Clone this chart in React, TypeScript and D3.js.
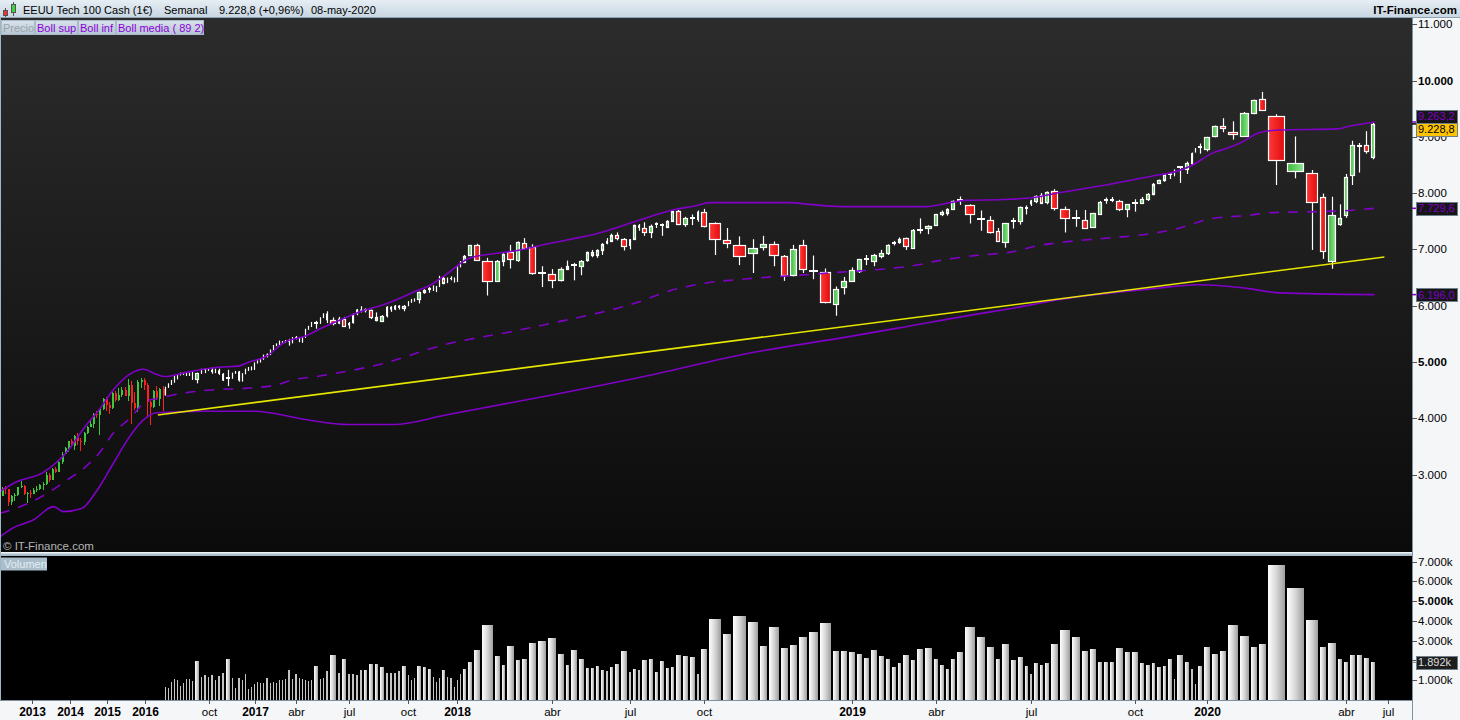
import * as d3 from "d3";

// open, high, low, close
type Ohlc = [number, number, number, number];
// open, high, low, close, volume (thousands)
type Bar = [number, number, number, number, number];

const FONT = "'Liberation Sans', Arial, sans-serif";
const PURPLE = "#8000c8";

// monthly bars before the volume history starts (Mar 2012 .. Jun 2016)
const HISTORY_START = new Date(2012, 2, 1);
const history: Ohlc[] = [
  [2620, 2780, 2610, 2755], [2760, 2795, 2650, 2735], [2740, 2750, 2445, 2520], [2520, 2630, 2450, 2615],
  [2615, 2670, 2530, 2640], [2640, 2780, 2620, 2775], [2780, 2880, 2760, 2800], [2800, 2810, 2630, 2660],
  [2660, 2690, 2500, 2680], [2680, 2730, 2580, 2660],
  [2660, 2760, 2650, 2730], [2730, 2790, 2690, 2740], [2740, 2830, 2720, 2820], [2820, 2870, 2730, 2830],
  [2830, 3040, 2820, 2990], [2990, 3030, 2860, 2910], [2910, 3110, 2900, 3100], [3100, 3140, 3030, 3040],
  [3040, 3260, 3040, 3220], [3220, 3400, 3180, 3370], [3370, 3490, 3360, 3470], [3470, 3600, 3400, 3590],
  [3590, 3630, 3480, 3500], [3500, 3710, 3440, 3690], [3690, 3740, 3520, 3590], [3590, 3640, 3410, 3580],
  [3580, 3750, 3520, 3740], [3740, 3860, 3720, 3850], [3850, 3990, 3840, 3890], [3890, 4090, 3830, 4080],
  [4080, 4120, 4000, 4050], [4050, 4170, 3700, 4160], [4160, 4360, 4140, 4340], [4340, 4370, 4120, 4240],
  [4240, 4290, 4080, 4190], [4190, 4470, 4160, 4450], [4450, 4490, 4280, 4330], [4330, 4530, 4300, 4420],
  [4420, 4560, 4380, 4510], [4510, 4560, 4390, 4400], [4400, 4700, 4300, 4590], [4590, 4660, 3900, 4270],
  [4270, 4460, 4150, 4180], [4180, 4680, 4110, 4650], [4650, 4720, 4530, 4680], [4680, 4710, 4510, 4590],
  [4590, 4630, 4000, 4280], [4280, 4310, 3880, 4200], [4200, 4500, 4180, 4480], [4480, 4580, 4320, 4340],
  [4340, 4540, 4220, 4520], [4520, 4570, 4120, 4420],
];

// weekly bars, first week starting Mon 4 Jul 2016
const WEEKS_START = new Date(2016, 6, 4);
const w2016: Bar[] = [
  [4420, 4560, 4400, 4550, 640], [4550, 4620, 4540, 4610, 590], [4610, 4680, 4590, 4660, 915],
  [4660, 4750, 4630, 4730, 1050], [4730, 4780, 4690, 4770, 1015], [4770, 4810, 4760, 4800, 710],
  [4800, 4820, 4770, 4795, 850], [4795, 4815, 4750, 4775, 1065], [4775, 4810, 4750, 4800, 1050],
  [4800, 4835, 4680, 4685, 950], [4685, 4810, 4620, 4795, 1980], [4795, 4880, 4790, 4860, 1150],
  [4860, 4885, 4800, 4875, 1250], [4875, 4890, 4840, 4860, 1150], [4860, 4900, 4790, 4820, 1250],
  [4820, 4880, 4800, 4850, 1015], [4850, 4880, 4770, 4790, 1220], [4790, 4800, 4660, 4670, 1355],
  [4700, 4860, 4570, 4720, 2080], [4720, 4810, 4700, 4800, 1100], [4800, 4840, 4790, 4830, 610],
  [4830, 4840, 4650, 4670, 1100], [4670, 4800, 4650, 4790, 1015], [4790, 4880, 4780, 4850, 1320],
  [4850, 4910, 4840, 4900, 560], [4900, 4920, 4850, 4865, 625],
];
const w2017: Bar[] = [
  [4865, 4990, 4860, 4985, 810], [4985, 5030, 4970, 5020, 915], [5020, 5050, 4990, 5045, 830],
  [5045, 5130, 5040, 5120, 865], [5120, 5150, 5080, 5130, 1100], [5130, 5220, 5120, 5210, 830],
  [5210, 5300, 5200, 5300, 915], [5300, 5330, 5280, 5320, 865], [5320, 5380, 5300, 5340, 1015],
  [5340, 5370, 5320, 5360, 1015], [5360, 5390, 5340, 5380, 1065], [5380, 5410, 5290, 5360, 1525],
  [5360, 5440, 5330, 5440, 1065], [5440, 5460, 5400, 5420, 1320], [5420, 5430, 5350, 5360, 1120],
  [5360, 5440, 5340, 5430, 1065], [5430, 5590, 5430, 5580, 1015], [5580, 5640, 5570, 5640, 965],
  [5640, 5710, 5620, 5700, 1015], [5700, 5730, 5590, 5680, 1730], [5680, 5790, 5680, 5790, 1065],
  [5790, 5860, 5780, 5860, 1120], [5860, 5900, 5690, 5740, 1475], [5740, 5790, 5650, 5680, 2290],
  [5680, 5800, 5670, 5770, 1370], [5770, 5800, 5640, 5650, 2080], [5650, 5710, 5590, 5690, 1320],
  [5690, 5860, 5680, 5850, 1320], [5850, 5940, 5830, 5930, 1270], [5930, 5990, 5880, 5910, 1525],
  [5910, 5950, 5880, 5920, 1525], [5920, 5930, 5760, 5790, 1830], [5790, 5880, 5720, 5730, 1830],
  [5730, 5830, 5710, 5810, 1675], [5810, 5990, 5790, 5980, 1370], [5980, 5990, 5890, 5930, 1370],
  [5930, 6010, 5920, 6000, 1370], [6000, 6010, 5930, 5960, 1475], [5960, 6010, 5900, 6000, 1730],
  [6000, 6080, 5990, 6070, 1270], [6070, 6120, 6050, 6110, 1015], [6110, 6130, 6070, 6110, 1120],
  [6110, 6250, 6040, 6240, 1730], [6240, 6290, 6210, 6280, 1675], [6280, 6330, 6230, 6290, 1575],
  [6290, 6360, 6260, 6340, 1170], [6340, 6350, 6240, 6260, 900], [6360, 6530, 6330, 6510, 1120],
  [6500, 6520, 6380, 6410, 1525], [6410, 6500, 6400, 6490, 1170], [6490, 6520, 6450, 6480, 1100],
  [6480, 6500, 6410, 6430, 660],
];
const w2018: Bar[] = [
  [6430, 6700, 6420, 6690, 1015], [6690, 6790, 6680, 6780, 1320], [6780, 6900, 6760, 6890, 1575],
  [6890, 7080, 6880, 7070, 1930], [7070, 7100, 6800, 6810, 2540], [6800, 6850, 6180, 6450, 3810],
  [6450, 6810, 6420, 6800, 2235], [6800, 6930, 6700, 6920, 1780], [6950, 7080, 6660, 6820, 2745],
  [6810, 7140, 6780, 7130, 2030], [7110, 7200, 7000, 7030, 2080], [7040, 7090, 6550, 6570, 2900],
  [6580, 6700, 6330, 6580, 3000], [6560, 6650, 6310, 6450, 3150], [6450, 6680, 6430, 6650, 2340],
  [6650, 6800, 6650, 6700, 1780], [6700, 6760, 6450, 6720, 2540], [6720, 6810, 6540, 6800, 2080],
  [6800, 6960, 6780, 6950, 1625], [6950, 6990, 6860, 6900, 1625], [6900, 7000, 6850, 6990, 1730],
  [6990, 7110, 6900, 7100, 1525], [7100, 7200, 7090, 7150, 1475], [7150, 7280, 7130, 7250, 1675],
  [7250, 7300, 7160, 7190, 1830], [7190, 7200, 6980, 7060, 2490], [7060, 7180, 7000, 7180, 1420],
  [7180, 7440, 7170, 7430, 1575], [7430, 7450, 7330, 7380, 1525], [7380, 7480, 7240, 7310, 2030],
  [7310, 7440, 7200, 7420, 2080], [7420, 7480, 7380, 7450, 1420], [7430, 7460, 7240, 7400, 1980],
  [7400, 7520, 7380, 7510, 1625], [7520, 7690, 7500, 7690, 1675], [7690, 7700, 7430, 7460, 2290],
  [7450, 7580, 7400, 7560, 2235], [7560, 7620, 7430, 7560, 2180], [7520, 7690, 7490, 7670, 1320],
  [7670, 7720, 7390, 7430, 2590], [7460, 7480, 6900, 7180, 4115], [7170, 7380, 7020, 7110, 3350],
  [7080, 7230, 6720, 6880, 4270], [6940, 7180, 6580, 7030, 3960], [7040, 7240, 6980, 7100, 2745],
  [7100, 7140, 6700, 6910, 3700], [6890, 6900, 6440, 6550, 2640], [6540, 7080, 6520, 7000, 2795],
  [7080, 7170, 6580, 6650, 3200], [6620, 6890, 6470, 6610, 3450], [6600, 6660, 6040, 6070, 3900],
  [6040, 6340, 5820, 6300, 2490], [6340, 6510, 6200, 6440, 2490],
];
const w2019: Bar[] = [
  [6450, 6680, 6420, 6640, 2440], [6610, 6830, 6580, 6820, 2340], [6830, 6900, 6720, 6825, 2130],
  [6790, 6920, 6700, 6900, 2540], [6880, 6990, 6840, 6940, 2235], [6940, 7090, 6900, 7080, 2080],
  [7110, 7150, 7070, 7115, 1675], [7130, 7210, 7100, 7185, 1880], [7200, 7210, 6990, 7050, 2290],
  [7030, 7360, 7010, 7350, 2030], [7340, 7550, 7280, 7345, 2590], [7375, 7430, 7270, 7415, 2640],
  [7430, 7630, 7420, 7620, 2080], [7625, 7690, 7590, 7665, 1780], [7650, 7730, 7600, 7725, 1575],
  [7725, 7870, 7710, 7860, 2080], [7870, 7940, 7790, 7875, 2400], [7790, 7800, 7460, 7630, 3700],
  [7540, 7690, 7330, 7535, 3200], [7525, 7590, 7280, 7320, 2690], [7330, 7380, 7140, 7145, 2080],
  [7115, 7470, 7030, 7460, 2845], [7495, 7560, 7370, 7500, 2030], [7505, 7760, 7440, 7745, 2185],
  [7740, 7780, 7620, 7735, 1730], [7800, 7880, 7770, 7870, 1320], [7865, 7960, 7820, 7950, 1880],
  [7965, 8000, 7820, 7830, 1780], [7835, 8030, 7800, 8020, 1880], [8040, 8070, 7690, 7730, 2845],
  [7720, 7760, 7300, 7560, 3550], [7560, 7700, 7400, 7530, 3200], [7530, 7700, 7380, 7390, 2490],
  [7390, 7650, 7380, 7640, 2590], [7640, 7860, 7620, 7850, 1930], [7850, 7920, 7810, 7880, 1930],
  [7880, 7930, 7840, 7860, 1930], [7860, 7880, 7680, 7720, 2640], [7720, 7800, 7570, 7800, 2440],
  [7800, 7890, 7670, 7830, 2440], [7830, 7930, 7820, 7900, 1880], [7900, 8000, 7860, 7990, 1780],
  [7990, 8180, 7960, 8170, 1880], [8170, 8240, 8160, 8230, 1675], [8230, 8340, 8200, 8330, 1730],
  [8330, 8370, 8250, 8300, 2080], [8300, 8420, 8300, 8410, 1065], [8470, 8480, 8180, 8470, 2290],
  [8430, 8560, 8340, 8530, 1930], [8515, 8720, 8500, 8710, 1575], [8727, 8800, 8720, 8798, 810],
  [8815, 8880, 8700, 8815, 1730],
];
const w2020: Bar[] = [
  [8768, 9000, 8740, 8989, 2690], [9006, 9200, 8990, 9185, 2340], [9185, 9330, 9080, 9143, 2490],
  [9090, 9274, 8950, 9050, 3810], [9018, 9440, 9000, 9423, 3250], [9423, 9660, 9400, 9649, 2690],
  [9667, 9798, 9460, 9471, 2845], [9363, 9400, 8143, 8578, 6850], [8390, 9006, 8262, 8530, 5690],
  [8364, 8410, 6990, 7846, 4060], [7923, 7990, 6830, 6965, 2690], [6786, 7935, 6655, 7602, 2895],
  [7447, 7800, 7420, 7560, 2080], [7608, 8340, 7560, 8280, 1930], [8322, 8930, 8143, 8852, 2290],
  [8828, 8890, 8364, 8835, 2255], [8852, 9100, 8700, 8738, 2140], [8643, 9260, 8600, 9228.8, 1892],
];

// Bollinger (89, 2)
const upperBand: [string, number][] = [
  ["2012-03-01", 2700], ["2012-08-15", 2875], ["2013-04-15", 3030], ["2013-12-01", 3390],
  ["2014-06-15", 3890], ["2014-10-01", 4120], ["2015-03-01", 4510], ["2015-08-01", 4780],
  ["2015-12-15", 4870], ["2016-04-15", 4780], ["2016-07-04", 4740], ["2016-08-22", 4815],
  ["2016-10-24", 4905], ["2016-11-28", 4925], ["2016-12-19", 4995], ["2017-01-30", 5100],
  ["2017-03-13", 5350], ["2017-04-24", 5460], ["2017-05-22", 5585], ["2017-06-19", 5725],
  ["2017-07-24", 5890], ["2017-08-28", 6030], ["2017-10-16", 6245], ["2017-11-13", 6390],
  ["2017-12-11", 6565], ["2018-01-22", 6835], ["2018-02-12", 6925], ["2018-03-05", 6975],
  ["2018-04-02", 7100], ["2018-05-28", 7300], ["2018-07-16", 7510], ["2018-08-27", 7690],
  ["2018-09-24", 7780], ["2018-10-08", 7830], ["2018-11-26", 7830], ["2018-12-10", 7800],
  ["2018-12-31", 7760], ["2019-03-25", 7760], ["2019-04-22", 7830], ["2019-05-06", 7870],
  ["2019-06-03", 7885], ["2019-07-08", 7920], ["2019-08-05", 8010], ["2019-09-02", 8120],
  ["2019-10-28", 8300], ["2019-12-02", 8390], ["2019-12-16", 8480], ["2020-01-13", 8710],
  ["2020-01-27", 8800], ["2020-02-03", 8890], ["2020-02-18", 9080], ["2020-02-28", 9120],
  ["2020-03-30", 9140], ["2020-04-13", 9190], ["2020-05-08", 9263.2],
];
const middleBand: [string, number][] = [
  ["2012-03-01", 2311], ["2012-06-15", 2370], ["2012-12-15", 2500], ["2013-06-01", 2668],
  ["2013-12-01", 2893], ["2014-06-01", 3132], ["2014-10-15", 3382], ["2015-03-01", 3740],
  ["2015-08-01", 3990], ["2016-01-15", 4304], ["2016-05-01", 4352], ["2016-08-22", 4453],
  ["2016-10-17", 4507], ["2016-12-12", 4530], ["2017-02-20", 4589], ["2017-03-27", 4678],
  ["2017-05-22", 4750], ["2017-08-21", 4960], ["2017-12-11", 5317], ["2018-03-05", 5554],
  ["2018-04-02", 5674], ["2018-07-16", 6060], ["2018-08-27", 6268], ["2018-10-01", 6388],
  ["2018-10-29", 6477], ["2018-11-12", 6507], ["2018-12-10", 6554], ["2018-12-31", 6596],
  ["2019-02-04", 6643], ["2019-03-11", 6703], ["2019-04-08", 6804], ["2019-05-13", 6893],
  ["2019-06-10", 6953], ["2019-07-15", 7072], ["2019-08-05", 7120], ["2019-12-02", 7370],
  ["2020-01-13", 7548], ["2020-02-10", 7608], ["2020-02-24", 7649], ["2020-03-09", 7667],
  ["2020-04-06", 7685], ["2020-05-08", 7729.6],
];
const lowerBand: [string, number][] = [
  ["2012-03-01", 1893], ["2012-07-01", 2048], ["2013-01-15", 2191], ["2013-08-01", 2429],
  ["2013-11-01", 2340], ["2014-05-01", 2400], ["2014-09-15", 2697], ["2015-03-01", 3204],
  ["2015-07-15", 3620], ["2015-12-01", 3947], ["2016-04-15", 4096], ["2016-09-26", 4125],
  ["2017-01-02", 4125], ["2017-04-24", 3977], ["2017-07-03", 3888], ["2017-09-11", 3888],
  ["2017-12-11", 4060], ["2018-04-02", 4400], ["2018-07-30", 4760], ["2018-10-29", 5150],
  ["2019-01-07", 5450], ["2019-02-25", 5600], ["2019-05-13", 5850], ["2019-06-10", 5950],
  ["2019-08-05", 6110], ["2019-10-28", 6300], ["2019-12-30", 6370], ["2020-02-10", 6298],
  ["2020-02-28", 6227], ["2020-05-08", 6196],
];
const trendLine: [string, number][] = [["2016-05-01", 4057], ["2020-06-17", 6864]];

const priceTicks = [3000, 4000, 5000, 6000, 7000, 8000, 9000, 10000, 11000];
const priceMajor = [5000, 10000];
const volumeTicks = [1000, 2000, 3000, 4000, 5000, 6000, 7000];
const volumeMajor = [5000];
const yearLabels: [string, string][] = [
  ["2013-01-01", "2013"], ["2014-01-01", "2014"], ["2015-01-01", "2015"], ["2016-01-01", "2016"],
];
const timeLabels: [string, string, boolean][] = [
  ["2016-10-03", "oct", false], ["2017-01-02", "2017", true], ["2017-04-03", "abr", false],
  ["2017-07-03", "jul", false], ["2017-10-02", "oct", false], ["2018-01-01", "2018", true],
  ["2018-04-02", "abr", false], ["2018-07-02", "jul", false], ["2018-10-01", "oct", false],
  ["2019-01-07", "2019", true], ["2019-04-01", "abr", false], ["2019-07-01", "jul", false],
  ["2019-10-07", "oct", false], ["2020-01-06", "2020", true], ["2020-04-06", "abr", false],
  ["2020-07-06", "jul", false],
];

const parse = d3.timeParse("%Y-%m-%d");
const es = d3.formatLocale({ decimal: ",", thousands: ".", grouping: [3], currency: ["", "€"] });
const fmtInt = es.format(",.0f");
const fmt1 = es.format(",.1f");
const DAY = 864e5;

export default function App() {
  const W = 1460, H = 720;
  const plotTop = 18, mainBottom = 552, volBottom = 700, plotRight = 1412;

  const yP = d3.scaleLinear().domain([3000, 10000]).range([474.5, 80.5]);
  const yV = d3.scaleLinear().domain([0, 7000]).range([699.7, 561.7]);
  const tEarly = d3.scaleTime().domain([new Date(2013, 0, 1), new Date(2016, 0, 1)]).range([31.7, 145.3]);

  // equivolume layout: each week's width follows its volume
  const bars = [...w2016, ...w2017, ...w2018, ...w2019, ...w2020];
  const wUnits = d3.scaleLinear().domain([1050, 5700]).range([1, 17]).clamp(true);
  const GAP = 2;
  const starts: number[] = [];
  let acc = 0;
  bars.forEach((b) => { starts.push(acc); acc += wUnits(b[4]) + GAP; });
  const xW = d3.scaleLinear().domain([0, acc]).range([165, 1377]);
  const FUTURE_WEEK = 1.4;

  const xOf = (t: Date) => {
    if (t < WEEKS_START) return tEarly(t);
    const idx = (t.getTime() - WEEKS_START.getTime()) / (7 * DAY);
    if (idx >= bars.length) return xW(acc) + (idx - bars.length) * FUTURE_WEEK;
    const i = Math.floor(idx);
    return xW(starts[i] + (idx - i) * (wUnits(bars[i][4]) + GAP));
  };
  const weekCenter = (t: Date) => {
    const i = Math.floor((t.getTime() - WEEKS_START.getTime()) / (7 * DAY) + 0.1);
    if (i >= bars.length) return xOf(t);
    return xW(starts[i] + wUnits(bars[i][4]) / 2);
  };

  const bandLine = d3.line<[string, number]>()
    .x((d) => xOf(parse(d[0]) as Date))
    .y((d) => yP(d[1]))
    .curve(d3.curveMonotoneX);

  const last = bars[bars.length - 1];
  const upLast = upperBand[upperBand.length - 1][1];
  const midLast = middleBand[middleBand.length - 1][1];
  const lowLast = lowerBand[lowerBand.length - 1][1];

  // value boxes on the price axis, pushed apart when they collide
  const boxes = [
    { v: upLast, text: fmt1(upLast), fill: "#161616", color: PURPLE, mark: PURPLE },
    { v: last[3], text: fmt1(last[3]), fill: "#ffc400", color: "#000", mark: "#000" },
    { v: midLast, text: fmt1(midLast), fill: "#161616", color: PURPLE, mark: PURPLE },
    { v: lowLast, text: fmt1(lowLast), fill: "#161616", color: PURPLE, mark: PURPLE },
  ].map((b) => ({ ...b, y: yP(b.v), by: yP(b.v) }));
  boxes.sort((a, b) => a.y - b.y);
  for (let i = 1; i < boxes.length; i++) {
    const a = boxes[i - 1], b = boxes[i];
    if (b.by - a.by < 13) {
      const m = (a.by + b.by) / 2;
      a.by = m - 6.5; b.by = m + 6.5;
    }
  }

  const axisFill = "#f4f6f8";
  const frame = "#7d92a1";

  return (
    <>
      <style>{"body{margin:0;background:#fff}"}</style>
      <svg width={W} height={H} style={{ display: "block", fontFamily: FONT }}>
        <defs>
          <linearGradient id="bgMain" x1="0" y1="0" x2="0" y2="1">
            <stop offset="0" stopColor="#2c2c2c" />
            <stop offset="1" stopColor="#0b0b0b" />
          </linearGradient>
          <linearGradient id="upFill" x1="0" y1="0" x2="1" y2="0">
            <stop offset="0" stopColor="#3cb83c" />
            <stop offset="1" stopColor="#90e690" />
          </linearGradient>
          <linearGradient id="downFill" x1="0" y1="0" x2="1" y2="0">
            <stop offset="0" stopColor="#ff3838" />
            <stop offset="1" stopColor="#e00c0c" />
          </linearGradient>
          <linearGradient id="volFill" x1="0" y1="0" x2="1" y2="0">
            <stop offset="0" stopColor="#ffffff" />
            <stop offset="0.5" stopColor="#d6d6d6" />
            <stop offset="1" stopColor="#9e9e9e" />
          </linearGradient>
          <linearGradient id="titleFill" x1="0" y1="0" x2="0" y2="1">
            <stop offset="0" stopColor="#e6eef4" />
            <stop offset="1" stopColor="#c6d5e1" />
          </linearGradient>
          <linearGradient id="tagFill" x1="0" y1="0" x2="0" y2="1">
            <stop offset="0" stopColor="#d8e2eb" />
            <stop offset="1" stopColor="#b6c6d4" />
          </linearGradient>
          <clipPath id="mainClip">
            <rect x={1} y={plotTop} width={plotRight - 1} height={mainBottom - plotTop} />
          </clipPath>
        </defs>

        {/* panels */}
        <rect x={0} y={plotTop} width={plotRight} height={mainBottom - plotTop} fill="url(#bgMain)" />
        <rect x={0} y={556} width={plotRight} height={volBottom - 556} fill="#000" />
        <rect x={0} y={552} width={plotRight} height={1.5} fill="#eef3f6" />
        <rect x={0} y={553.5} width={plotRight} height={2.5} fill="#a9bccb" />
        <rect x={plotRight} y={plotTop} width={W - plotRight} height={H - plotTop} fill={axisFill} />
        <rect x={0} y={volBottom} width={plotRight} height={H - volBottom} fill={axisFill} />
        <line x1={0.5} x2={0.5} y1={plotTop} y2={volBottom} stroke="#9fb6c6" />
        <line x1={plotRight + 0.5} x2={plotRight + 0.5} y1={plotTop} y2={H} stroke={frame} />
        <line x1={0} x2={plotRight} y1={volBottom + 0.5} y2={volBottom + 0.5} stroke={frame} />

        {/* price panel */}
        <g clipPath="url(#mainClip)">
          {history.map((d, i) => {
            const m = d3.timeMonth.offset(HISTORY_START, i);
            const x0 = tEarly(m), x1 = tEarly(d3.timeMonth.offset(m, 1));
            const cx = Math.round((x0 + x1) / 2);
            const up = d[3] >= d[0];
            const c = up ? "#3cc83c" : "#ff2020";
            const yT = yP(Math.max(d[0], d[3])), yB = yP(Math.min(d[0], d[3]));
            return (
              <g key={"h" + i} shapeRendering="crispEdges">
                <line x1={cx + 0.5} x2={cx + 0.5} y1={yP(d[1])} y2={yP(d[2])} stroke={c} />
                <rect x={cx - 0.5} y={yT} width={2} height={Math.max(1, yB - yT)} fill={c} />
              </g>
            );
          })}
          {bars.map((d, i) => {
            const left = Math.round(xW(starts[i]));
            const right = Math.max(left + 1, Math.round(xW(starts[i] + wUnits(d[4]))));
            const bw = right - left;
            const cx = left + Math.floor(bw / 2) + 0.5;
            const up = d[3] >= d[0];
            const yT = yP(Math.max(d[0], d[3])), yB = yP(Math.min(d[0], d[3]));
            let body;
            if (bw < 3) {
              body = <rect x={left} y={yT} width={bw} height={Math.max(1, yB - yT)} fill="#fff" />;
            } else if (yB - yT < 2) {
              body = <rect x={left} y={Math.round(yT) - 1} width={bw} height={2} fill="#fff" />;
            } else {
              body = (
                <rect x={left + 0.5} y={Math.round(yT) + 0.5} width={bw - 1} height={Math.round(yB - yT)}
                  fill={up ? "url(#upFill)" : "url(#downFill)"} stroke="#fff" strokeWidth={1.2} />
              );
            }
            return (
              <g key={"w" + i}>
                <line x1={cx} x2={cx} y1={yP(d[1])} y2={yP(d[2])} stroke="#fff" strokeWidth={1.2} />
                {body}
              </g>
            );
          })}
          <path d={bandLine(lowerBand) || ""} fill="none" stroke={PURPLE} strokeWidth={1.6} />
          <path d={bandLine(upperBand) || ""} fill="none" stroke={PURPLE} strokeWidth={1.6} />
          <path d={bandLine(middleBand) || ""} fill="none" stroke={PURPLE} strokeWidth={1.6} strokeDasharray="10,9" />
          <path d={bandLine(trendLine) || ""} fill="none" stroke="#e6e600" strokeWidth={1.6} />
        </g>
        <text x={3} y={550} fontSize={11.5} fill="#b4b4b4">© IT-Finance.com</text>

        {/* volume panel */}
        {bars.map((d, i) => {
          const left = Math.round(xW(starts[i]));
          const right = Math.max(left + 1, Math.round(xW(starts[i] + wUnits(d[4]))));
          const top = Math.round(yV(d[4]));
          return (
            <rect key={"v" + i} x={left} y={top} width={right - left} height={volBottom - top}
              fill={right - left < 3 ? "#c4c4c4" : "url(#volFill)"} shapeRendering="crispEdges" />
          );
        })}
        <rect x={1} y={557.5} width={46} height={13} fill="#a9bdcb" />
        <text x={4} y={568} fontSize={11} fill="#e4edf3">Volumen</text>

        {/* price axis */}
        {priceTicks.map((v) => (
          <g key={"p" + v}>
            <line x1={plotRight} x2={plotRight + 5} y1={Math.round(yP(v)) + 0.5} y2={Math.round(yP(v)) + 0.5} stroke="#555" />
            <text x={plotRight + 6} y={yP(v) + 4} fontSize={11.5} fontWeight={priceMajor.includes(v) ? "bold" : "normal"} fill="#000">
              {fmtInt(v)}
            </text>
          </g>
        ))}
        {boxes.map((b, i) => (
          <g key={"b" + i}>
            <line x1={plotRight} x2={plotRight + 5} y1={b.y} y2={b.y} stroke={b.mark} strokeWidth={1.5} />
            <rect x={plotRight + 4.5} y={Math.round(b.by - 6.5) + 0.5} width={41} height={13} fill={b.fill} stroke="#6f7f8c" />
            <text x={plotRight + 6} y={b.by + 4} fontSize={11} fill={b.color}>{b.text}</text>
          </g>
        ))}

        {/* volume axis */}
        {volumeTicks.map((v) => (
          <g key={"va" + v}>
            <line x1={plotRight} x2={plotRight + 5} y1={Math.round(yV(v)) + 0.5} y2={Math.round(yV(v)) + 0.5} stroke="#555" />
            <text x={plotRight + 6} y={yV(v) + 4} fontSize={11.5} fontWeight={volumeMajor.includes(v) ? "bold" : "normal"} fill="#000">
              {fmtInt(v)}k
            </text>
          </g>
        ))}
        <line x1={plotRight} x2={plotRight + 5} y1={yV(last[4])} y2={yV(last[4])} stroke="#888" />
        <rect x={plotRight + 4.5} y={Math.round(yV(last[4]) - 6.5) + 0.5} width={41} height={13} fill="#1e1e1e" stroke="#6f7f8c" />
        <text x={plotRight + 6} y={yV(last[4]) + 4} fontSize={11} fill="#dcdcdc">{fmtInt(last[4])}k</text>

        {/* time axis */}
        {yearLabels.map(([d, label]) => {
          const x = Math.round(tEarly(parse(d) as Date)) + 0.5;
          return (
            <g key={"y" + label}>
              <line x1={x} x2={x} y1={volBottom} y2={volBottom + 4} stroke="#555" />
              <text x={x} y={716} textAnchor="middle" fontSize={12} fontWeight="bold" fill="#000">{label}</text>
            </g>
          );
        })}
        {timeLabels.map(([d, label, bold]) => {
          const x = Math.round(weekCenter(parse(d) as Date)) + 0.5;
          return (
            <g key={"t" + d}>
              <line x1={x} x2={x} y1={volBottom} y2={volBottom + 4} stroke="#555" />
              <text x={x} y={716} textAnchor="middle" fontSize={bold ? 12 : 11.5} fontWeight={bold ? "bold" : "normal"} fill="#000">
                {label}
              </text>
            </g>
          );
        })}

        {/* title bar */}
        <rect x={0} y={0} width={W} height={plotTop} fill="url(#titleFill)" />
        <line x1={0} x2={W} y1={plotTop - 0.5} y2={plotTop - 0.5} stroke="#8ea3b3" />
        <g shapeRendering="crispEdges">
          <line x1={5.5} x2={5.5} y1={8} y2={17} stroke="#555" />
          <rect x={3.5} y={10.5} width={4} height={5} fill="#f03030" stroke="#555" />
          <line x1={13.5} x2={13.5} y1={2} y2={16} stroke="#555" />
          <rect x={11.5} y={4.5} width={4} height={8} fill="#40d040" stroke="#555" />
        </g>
        <text x={23} y={14} fontSize={11} fill="#000">EEUU Tech 100 Cash (1€)</text>
        <text x={164} y={14} fontSize={11} fill="#000">Semanal</text>
        <text x={219} y={14} fontSize={11} fill="#000">{fmt1(last[3])} (+0,96%)</text>
        <text x={311} y={14} fontSize={11} fill="#000">08-may-2020</text>
        <text x={W - 3} y={14} textAnchor="end" fontSize={11.5} fontWeight="bold" fill="#000">IT-Finance.com</text>

        {/* legend tags */}
        {[
          { label: "Precio", x: 1, w: 33, color: "#9aa3aa" },
          { label: "Boll sup", x: 35, w: 42, color: "#8a00d8" },
          { label: "Boll inf", x: 78, w: 37, color: "#8a00d8" },
          { label: "Boll media ( 89 2)", x: 116, w: 87, color: "#8a00d8" },
        ].map((t) => (
          <g key={t.label}>
            <rect x={t.x + 0.5} y={20.5} width={t.w} height={14} fill="url(#tagFill)" stroke="#a9bac8" />
            <text x={t.x + 2} y={31.5} fontSize={11} fill={t.color}>{t.label}</text>
          </g>
        ))}
      </svg>
    </>
  );
}
